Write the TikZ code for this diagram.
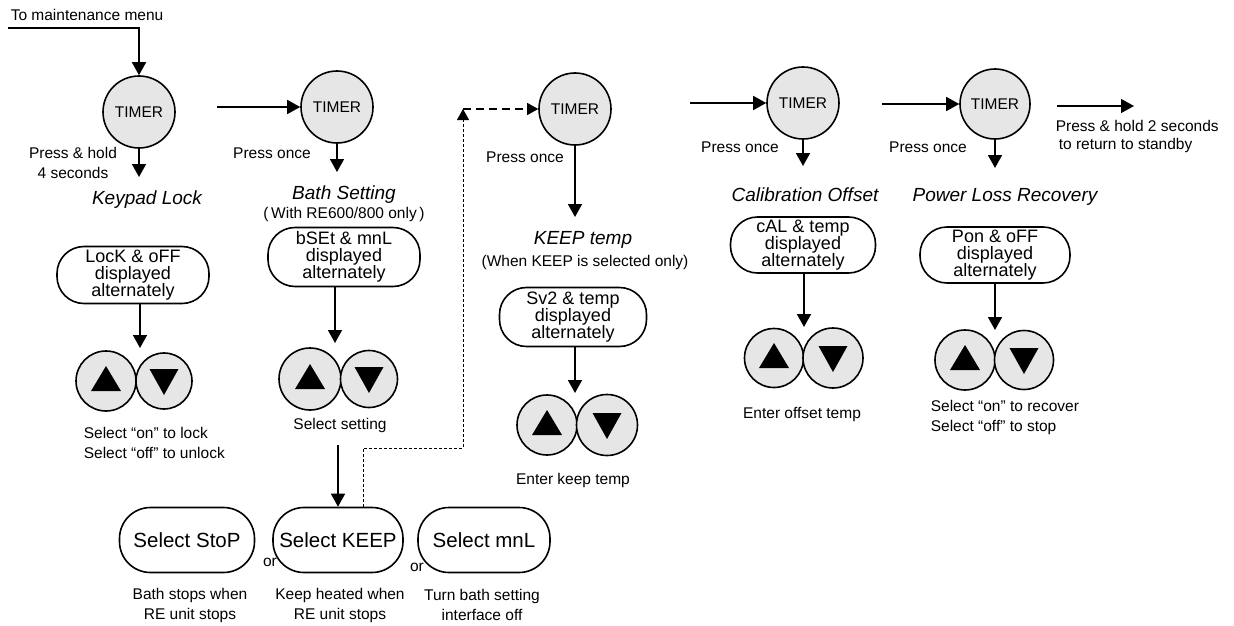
\documentclass[tikz,border=0pt]{standalone}
\usepackage{fontspec}
\setmainfont{Liberation Sans}
\usetikzlibrary{arrows.meta,calc}
\definecolor{btn}{HTML}{E6E6E6}
\newcommand\btnpair[6]{%
  \node[btnc,minimum size=#4] (#1u) at (#2,#3) {};
  \node[btnc,minimum size=#5] (#1d) at ($(#1u)+(#6,0)$) {};
  \fill ($(#1u)+(0,-15)$) -- ($(#1u)+(-15,10)$) -- ($(#1u)+(15,10)$) -- cycle;
  \fill ($(#1d)+(0,14)$) -- ($(#1d)+(-14.5,-12)$) -- ($(#1d)+(14.5,-12)$) -- cycle;
}
\begin{document}
\begin{tikzpicture}[x=1pt,y=-1pt,line width=1.6pt,
  arr/.style={-{Triangle[length=13pt,width=14pt]}},
  timer/.style={circle,draw,fill=btn,minimum size=72pt,inner sep=0pt,font=\fontsize{15.5}{18}\selectfont},
  btnc/.style={circle,draw,fill=btn,inner sep=0pt},
  disp/.style={draw,rounded corners=27pt,minimum width=#1,minimum height=57pt,inner sep=0pt,align=center,font=\fontsize{18}{17}\selectfont},
  sel/.style={draw,rounded corners=31pt,minimum width=#1,minimum height=65pt,inner sep=0pt,font=\fontsize{20.5}{24}\selectfont},
  lbl/.style={inner sep=0pt,align=center,font=\fontsize{15.5}{20}\selectfont},
  ttl/.style={inner sep=0pt,font=\fontsize{19}{22}\selectfont\itshape},
  finedash/.style={line width=0.9pt,dash pattern=on 3pt off 2pt},
  longdash/.style={line width=1.2pt,dash pattern=on 8pt off 5pt},
  smallarr/.style={-{Triangle[length=11pt,width=12pt]}}
]
\useasboundingbox (0,0) rectangle (1234,626);

% ---- Keypad lock ----
\node[lbl,anchor=west] (tomm) at (10,15) {To maintenance menu};
\coordinate (m0) at (8,28);
\coordinate (m1) at (139,28);
\node[timer] (c1) at (139,112) {TIMER};
\draw[arr] (m0) -- (m1) -- (c1.north);
\coordinate (c1b) at (139,177);
\draw[arr] (c1.south) -- (c1b);
\node[lbl] (ph4) at (73,163) {Press \& hold\\4 seconds};
\node[ttl] (kl) at (147,200) {Keypad Lock};
\node[disp=152pt] (kbox) at (133,275) {LocK \& oFF\\displayed\\alternately};
\coordinate (ktip) at (140,348);
\draw[arr] (kbox.south -| ktip) -- (ktip);
\btnpair{kb}{106}{381}{60pt}{56pt}{58}
\node[lbl,align=left,anchor=west] (kt) at (83,443) {Select “on” to lock\\Select “off” to unlock};

% ---- Bath setting ----
\coordinate (a12) at (217,107);
\node[timer] (c2) at (337,107) {TIMER};
\draw[arr] (a12) -- (c2.west);
\coordinate (c2b) at (337,172);
\draw[arr] (c2.south) -- (c2b);
\node[lbl] (po2) at (272,153) {Press once};
\node[ttl] (bt) at (344,195) {Bath Setting};
\node[lbl] (bt2) at (344,214) {(\,With RE600/800 only\,)};
\node[disp=152pt,minimum height=59pt] (bbox) at (344,257) {bSEt \& mnL\\displayed\\alternately};
\coordinate (btip) at (335,343);
\draw[arr] (bbox.south -| btip) -- (btip);
\btnpair{bb}{310}{379}{62pt}{57pt}{59}
\node[lbl] (bsel) at (340,425) {Select setting};
\node[sel=135pt] (stop) at (187,540) {Select StoP};
\node[sel=130pt] (keep) at (338,540) {Select KEEP};
\node[sel=132pt] (mnl) at (484,540) {Select mnL};
\coordinate (bs0) at (338,445);
\draw[arr] (bs0) -- (keep.north);
\node[lbl] (or1) at (270,562) {or};
\node[lbl] (or2) at (417,567) {or};
\node[lbl] (t1) at (190,605) {Bath stops when\\RE unit stops};
\node[lbl] (t2) at (340,605) {Keep heated when\\RE unit stops};
\node[lbl] (t3) at (482,605) {Turn bath setting\\interface off};

% ---- KEEP temp ----
\node[timer] (c3) at (575,109) {TIMER};
\coordinate (d1) at (363,448);
\coordinate (d2) at (463,448);
\coordinate (d3) at (463,109);
\draw[finedash,smallarr] (keep.north -| d1) -- (d1) -- (d2) -- (d3);
\draw[longdash,smallarr] (d3) -- (c3.west);
\coordinate (c3b) at (575,217);
\draw[arr] (c3.south) -- (c3b);
\node[lbl] (po3) at (525,157) {Press once};
\node[ttl] (kt1) at (583,240) {KEEP temp};
\node[lbl] (kt2) at (585,262) {(When KEEP is selected only)};
\node[disp=147pt,minimum height=59pt] (sbox) at (573,317) {Sv2 \& temp\\displayed\\alternately};
\coordinate (stip) at (575,393);
\draw[arr] (sbox.south -| stip) -- (stip);
\btnpair{sb}{547}{425}{60pt}{61pt}{60}
\node[lbl] (st) at (573,480) {Enter keep temp};

% ---- Calibration offset ----
\coordinate (a34) at (690,103);
\node[timer] (c4) at (803,103) {TIMER};
\draw[arr] (a34) -- (c4.west);
\coordinate (c4b) at (803,166);
\draw[arr] (c4.south) -- (c4b);
\node[lbl] (po4) at (740,147) {Press once};
\node[ttl] (ct) at (805,195) {Calibration Offset};
\node[disp=145pt,minimum height=56pt] (cbox) at (803,245) {cAL \& temp\\displayed\\alternately};
\coordinate (ctip) at (804,327);
\draw[arr] (cbox.south -| ctip) -- (ctip);
\btnpair{cb}{774}{358}{59pt}{60pt}{59}
\node[lbl] (cte) at (802,414) {Enter offset temp};

% ---- Power loss recovery ----
\coordinate (a45) at (882,104);
\node[timer,minimum size=70pt] (c5) at (995,104) {TIMER};
\draw[arr] (a45) -- (c5.west);
\coordinate (c5b) at (995,168);
\draw[arr] (c5.south) -- (c5b);
\node[lbl] (po5) at (928,147) {Press once};
\node[ttl] (pt) at (1005,197) {Power Loss Recovery};
\node[disp=150pt,minimum height=56pt] (pbox) at (995,255) {Pon \& oFF\\displayed\\alternately};
\coordinate (ptip) at (995,330);
\draw[arr] (pbox.south -| ptip) -- (ptip);
\btnpair{pb}{965}{360}{60pt}{59pt}{59}
\node[lbl,align=left,anchor=west] (pte) at (930,417) {Select “on” to recover\\Select “off” to stop};
\coordinate (e0) at (1057,106);
\coordinate (e1) at (1134,106);
\draw[arr,line width=1.3pt] (e0) -- (e1);
\node[lbl,align=left,anchor=west,font=\fontsize{15.5}{18}\selectfont] (ret) at (1055,136) {Press \& hold 2 seconds\\\hspace*{3pt}to return to standby};
\end{tikzpicture}
\end{document}
